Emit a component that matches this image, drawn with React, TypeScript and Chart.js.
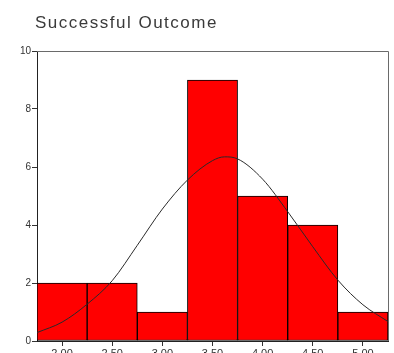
import React, { useEffect, useRef } from "react";
import { Chart, registerables } from "chart.js";

Chart.register(...registerables);

const titleText = "Successful Outcome";

// Histogram bins (bin centres) and their counts
const binLabels = ["2.00", "2.50", "3.00", "3.50", "4.00", "4.50", "5.00"];
const binCounts = [2, 2, 1, 9, 5, 4, 1];

// Fitted normal curve, sampled along the value axis
const curveX = [1.75, 2.0, 2.25, 2.5, 2.75, 3.0, 3.25, 3.5, 3.62, 3.75, 4.0, 4.25, 4.5, 4.75, 5.0, 5.25];
const curveY = [0.29, 0.65, 1.27, 2.08, 3.3, 4.55, 5.55, 6.22, 6.35, 6.28, 5.58, 4.46, 3.25, 2.1, 1.25, 0.67];

const yTicks = [0, 2, 4, 6, 8, 10];

const framePlugin = {
  id: "frameAndTitle",
  afterDraw(chart: Chart) {
    const { ctx, chartArea } = chart;
    ctx.save();
    // top and right frame lines
    ctx.strokeStyle = "#6a6a6a";
    ctx.lineWidth = 1;
    ctx.beginPath();
    ctx.moveTo(chartArea.left, chartArea.top + 0.5);
    ctx.lineTo(chartArea.right + 0.5, chartArea.top + 0.5);
    ctx.lineTo(chartArea.right + 0.5, chartArea.bottom);
    ctx.stroke();
    // title, aligned with the plot's left edge
    ctx.fillStyle = "#3a3a3a";
    ctx.font = "17px 'Liberation Sans', Arial, sans-serif";
    (ctx as any).letterSpacing = "1.5px";
    ctx.textBaseline = "alphabetic";
    ctx.textAlign = "left";
    ctx.fillText(titleText, chartArea.left - 2, 28);
    ctx.restore();
  },
};

export default function App() {
  const canvasRef = useRef<HTMLCanvasElement | null>(null);

  useEffect(() => {
    if (!canvasRef.current) return;
    const chart = new Chart(canvasRef.current, {
      type: "bar",
      data: {
        labels: binLabels,
        datasets: [
          {
            type: "bar",
            data: binCounts,
            xAxisID: "x",
            backgroundColor: "#ff0000",
            borderColor: "#000000",
            borderWidth: 1,
            borderSkipped: false,
            barPercentage: 1,
            categoryPercentage: 1,
            grouped: false,
            order: 1,
          },
          {
            type: "line",
            data: curveX.map((x, i) => ({ x, y: curveY[i] })),
            xAxisID: "x2",
            borderColor: "#2a2a2a",
            borderWidth: 1,
            pointRadius: 0,
            cubicInterpolationMode: "monotone",
            order: 0,
          } as any,
        ],
      },
      options: {
        animation: false,
        responsive: false,
        maintainAspectRatio: false,
        layout: { padding: { left: 0, right: 6, top: 51, bottom: 0 } },
        plugins: {
          legend: { display: false },
          tooltip: { enabled: false },
          title: { display: false },
        },
        scales: {
          x: {
            type: "category",
            offset: true,
            grid: {
              display: true,
              drawOnChartArea: false,
              drawTicks: true,
              offset: false,
              tickLength: 5,
              color: "#333",
            },
            border: { display: true, color: "#222", width: 1 },
            ticks: {
              color: "#333",
              font: { family: "'Liberation Sans', Arial, sans-serif", size: 11 },
              padding: 1,
              maxRotation: 0,
            },
            afterFit(scale: any) {
              scale.height = 21;
            },
          },
          x2: {
            type: "linear",
            display: false,
            offset: false,
            min: 1.75,
            max: 5.25,
          },
          y: {
            min: 0,
            max: 10,
            afterBuildTicks(scale: any) {
              scale.ticks = yTicks.map((v) => ({ value: v }));
            },
            grid: {
              display: true,
              drawOnChartArea: false,
              drawTicks: true,
              tickLength: 5,
              color: "#333",
            },
            border: { display: true, color: "#222", width: 1 },
            ticks: {
              color: "#333",
              font: { family: "'Liberation Sans', Arial, sans-serif", size: 10 },
              padding: 1,
            },
            afterFit(scale: any) {
              scale.width = 37;
            },
          },
        },
      },
      plugins: [framePlugin],
    });
    return () => chart.destroy();
  }, []);

  return (
    <div style={{ position: "absolute", left: 0, top: 0, width: 394, height: 362 }}>
      <canvas ref={canvasRef} width={394} height={362} style={{ display: "block" }} />
    </div>
  );
}
